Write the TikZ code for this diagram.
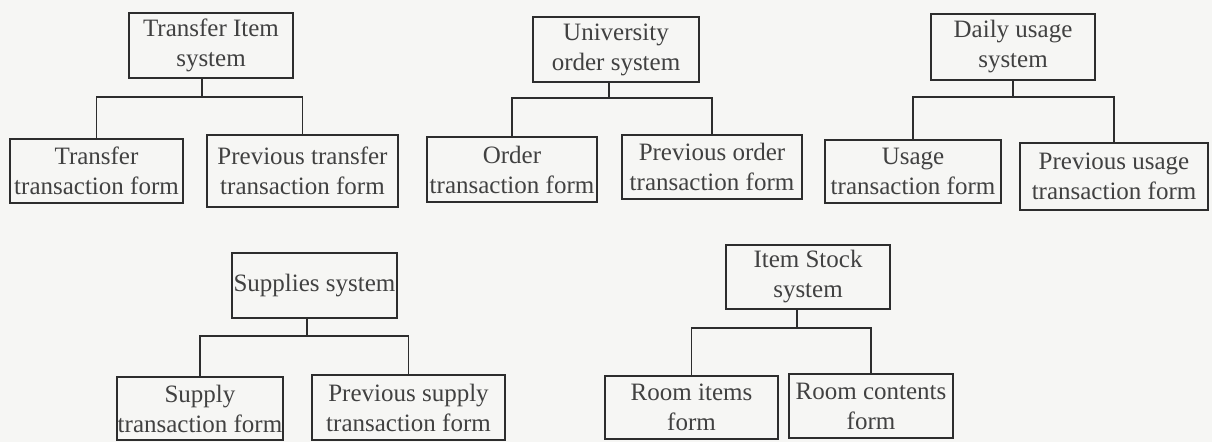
\documentclass[tikz,border=0pt]{standalone}
\usepackage{fontspec}
\setmainfont{Liberation Serif}
\begin{document}
\begin{tikzpicture}[x=1pt,y=-1pt,
  box/.style={draw=linegray, line width=1.8pt, rectangle, inner sep=0pt,
    align=center, text=textgray, font=\fontsize{25}{30}\selectfont},
  link/.style={draw=linegray, line width=1.8pt}]
\definecolor{linegray}{RGB}{45,45,45}
\definecolor{textgray}{RGB}{65,65,65}
\definecolor{paper}{RGB}{246,246,244}
\fill[paper] (0,0) rectangle (1212,442);
\useasboundingbox (0,0) rectangle (1212,442);

% Transfer item subsystem
\node[box, minimum width=164, minimum height=65] (t1) at (211,45.5) {Transfer Item\\system};
\node[box, minimum width=173, minimum height=64] (a1) at (96.5,171) {Transfer\\transaction form};
\node[box, minimum width=191, minimum height=72] (b1) at (302.5,171) {Previous transfer\\transaction form};
\coordinate (j1) at (202,97);
\draw[link] (t1.south -| j1) -- (j1);
\draw[link] (a1.north) |- (j1) -| (b1.north);

% University order subsystem
\node[box, minimum width=166, minimum height=65] (t2) at (616,49.5) {University\\order system};
\node[box, minimum width=170, minimum height=65] (a2) at (512,169.5) {Order\\transaction form};
\node[box, minimum width=180, minimum height=64] (b2) at (712,167) {Previous order\\transaction form};
\coordinate (j2) at (609,98);
\draw[link] (t2.south -| j2) -- (j2);
\draw[link] (a2.north) |- (j2) -| (b2.north);

% Daily usage subsystem
\node[box, minimum width=164, minimum height=66] (t3) at (1013,47) {Daily usage\\system};
\node[box, minimum width=176, minimum height=63] (a3) at (913,171.5) {Usage\\transaction form};
\node[box, minimum width=188, minimum height=67] (b3) at (1114,176.5) {Previous usage\\transaction form};
\coordinate (j3) at (1013,97);
\draw[link] (t3.south -| j3) -- (j3);
\draw[link] (a3.north) |- (j3) -| (b3.north);

% Supplies subsystem
\node[box, minimum width=165, minimum height=65] (t4) at (314.5,285.5) {Supplies system};
\node[box, minimum width=166, minimum height=63] (a4) at (200,408.5) {Supply\\transaction form};
\node[box, minimum width=193, minimum height=65] (b4) at (408.5,407.5) {Previous supply\\transaction form};
\coordinate (j4) at (307,336);
\draw[link] (t4.south -| j4) -- (j4);
\draw[link] (a4.north) |- (j4) -| (b4.north);

% Item stock subsystem
\node[box, minimum width=164, minimum height=64] (t5) at (808,277) {Item Stock\\system};
\node[box, minimum width=173, minimum height=63] (a5) at (691.5,407.5) {Room items\\form};
\node[box, minimum width=164, minimum height=64] (b5) at (871,406) {Room contents\\form};
\coordinate (j5) at (797,328);
\draw[link] (t5.south -| j5) -- (j5);
\draw[link] (a5.north) |- (j5) -| (b5.north);
\end{tikzpicture}
\end{document}
